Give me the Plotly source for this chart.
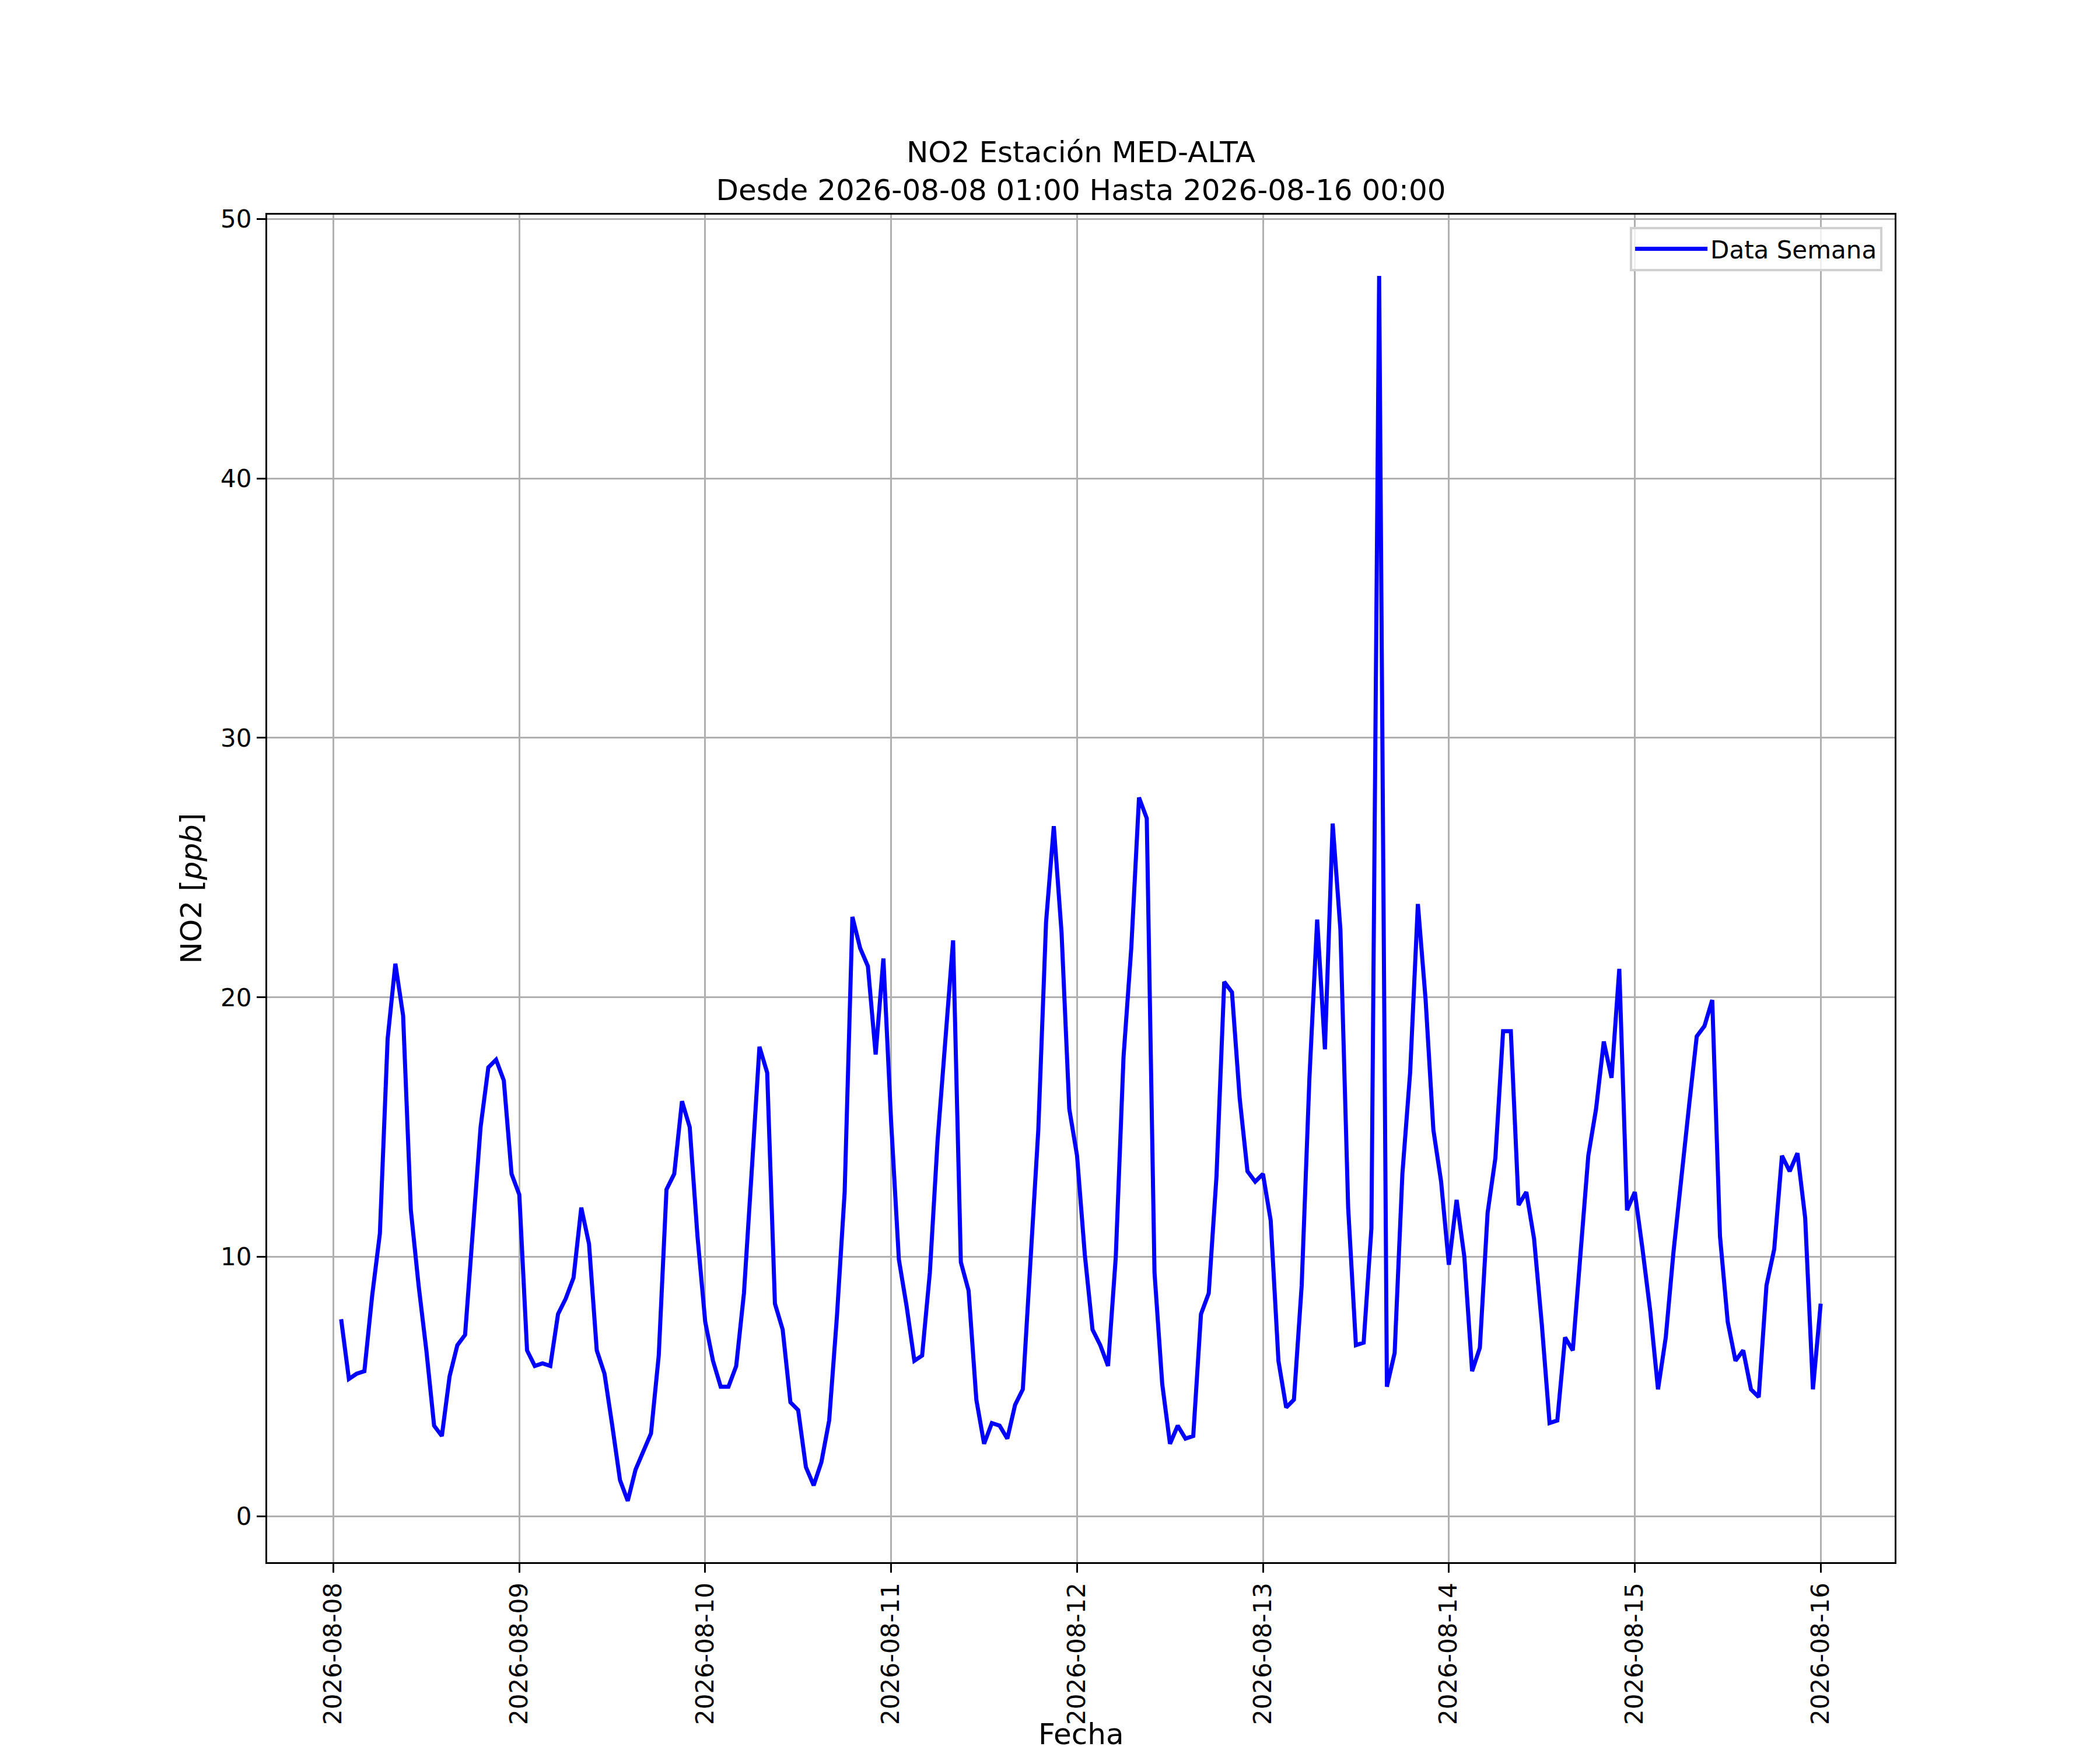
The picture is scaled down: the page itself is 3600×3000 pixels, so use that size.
import pandas as pd
import plotly.graph_objects as go

# NO2 hourly values (ppb), one list per day, from 2026-08-08 01:00
day_08 = [7.6, 5.3, 5.5, 5.6, 8.5, 10.9, 18.4, 21.3, 19.3, 11.8, 8.9, 6.4,
          3.5, 3.1, 5.4, 6.6, 7.0, 11.0, 15.0, 17.3, 17.6, 16.8, 13.2, 12.4]
day_09 = [6.4, 5.8, 5.9, 5.8, 7.8, 8.4, 9.2, 11.9, 10.5, 6.4, 5.5, 3.5,
          1.4, 0.6, 1.8, 2.5, 3.2, 6.2, 12.6, 13.2, 16.0, 15.0, 10.8, 7.5]
day_10 = [6.0, 5.0, 5.0, 5.8, 8.6, 13.3, 18.1, 17.1, 8.2, 7.2, 4.4, 4.1,
          1.9, 1.2, 2.1, 3.7, 7.7, 12.5, 23.1, 21.9, 21.2, 17.8, 21.5, 15.2]
day_11 = [9.9, 8.1, 6.0, 6.2, 9.4, 14.5, 18.6, 22.2, 9.8, 8.7, 4.5, 2.8,
          3.6, 3.5, 3.0, 4.3, 4.9, 9.8, 14.9, 22.9, 26.6, 22.5, 15.7, 13.9]
day_12 = [10.1, 7.2, 6.6, 5.8, 10.0, 17.7, 21.9, 27.7, 26.9, 9.4, 5.1, 2.8,
          3.5, 3.0, 3.1, 7.8, 8.6, 13.1, 20.6, 20.2, 16.1, 13.3, 12.9, 13.2]
day_13 = [11.4, 6.0, 4.2, 4.5, 8.9, 16.9, 23.0, 18.0, 26.7, 22.6, 11.9, 6.6,
          6.7, 11.1, 47.8, 5.0, 6.3, 13.2, 17.1, 23.6, 19.9, 14.9, 12.9, 9.7]
day_14 = [12.2, 10.0, 5.6, 6.5, 11.7, 13.8, 18.7, 18.7, 12.0, 12.5, 10.7, 7.4,
          3.6, 3.7, 6.9, 6.4, 10.2, 13.9, 15.7, 18.3, 16.9, 21.1, 11.8, 12.5]
day_15 = [10.3, 7.9, 4.9, 6.9, 10.2, 13.1, 15.8, 18.5, 18.9, 19.9, 10.8, 7.5,
          6.0, 6.4, 4.9, 4.6, 8.9, 10.3, 13.9, 13.3, 14.0, 11.5, 4.9, 8.2]

no2 = day_08 + day_09 + day_10 + day_11 + day_12 + day_13 + day_14 + day_15
fechas = pd.date_range('2026-08-08 01:00', periods=len(no2), freq='h')
tick_dias = pd.date_range('2026-08-08', '2026-08-16', freq='D')
y_ticks = [0, 10, 20, 30, 40, 50]

# matplotlib-like 5% margins
span_x = fechas[-1] - fechas[0]
x_range = [fechas[0] - 0.05 * span_x, fechas[-1] + 0.05 * span_x]
span_y = max(no2) - min(no2)
y_range = [min(no2) - 0.05 * span_y, max(no2) + 0.05 * span_y]

font = 'DejaVu Sans'

fig = go.Figure()
fig.add_trace(go.Scatter(
    x=fechas, y=no2, mode='lines', name='Data Semana',
    line=dict(color='blue', width=7),
))

fig.update_layout(
    width=3600, height=3000,
    paper_bgcolor='white', plot_bgcolor='white',
    font=dict(family=font, size=42, color='black'),
    margin=dict(l=450, r=360, t=360, b=330),
    title=dict(
        text='NO2 Estación MED-ALTA<br>Desde 2026-08-08 01:00 Hasta 2026-08-16 00:00',
        x=0.5, xref='paper', xanchor='center',
        y=1 - 270 / 3000, yref='container', yanchor='top',
        font=dict(size=50),
    ),
    showlegend=True,
    legend=dict(
        x=0.9925, y=0.991, xanchor='right', yanchor='top',
        bgcolor='rgba(255,255,255,0.8)', bordercolor='#d0d0d0', borderwidth=4,
        font=dict(size=42), itemwidth=124,
    ),
    annotations=[dict(
        text='Fecha', xref='paper', yref='paper', x=0.5, y=-(2996 - 2670) / 2310,
        xanchor='center', yanchor='bottom', showarrow=False, font=dict(size=50),
    )],
)
fig.update_xaxes(
    range=x_range, tickvals=tick_dias, ticktext=[d.strftime('%Y-%m-%d') for d in tick_dias],
    tickangle=-90, ticks='outside', ticklen=15, tickwidth=3.3, tickcolor='black',
    showgrid=True, gridcolor='#b0b0b0', gridwidth=3.3,
    showline=True, linecolor='black', linewidth=3.3, mirror=True,
    zeroline=False, automargin=False,
)
fig.update_yaxes(
    range=y_range, tickvals=y_ticks,
    ticks='outside', ticklen=15, tickwidth=3.3, tickcolor='black',
    showgrid=True, gridcolor='#b0b0b0', gridwidth=3.3,
    showline=True, linecolor='black', linewidth=3.3, mirror=True,
    zeroline=False, automargin=False,
    title=dict(text='NO2 [<i>ppb</i>]', font=dict(size=50), standoff=17),
)

fig.write_html("out.html")
